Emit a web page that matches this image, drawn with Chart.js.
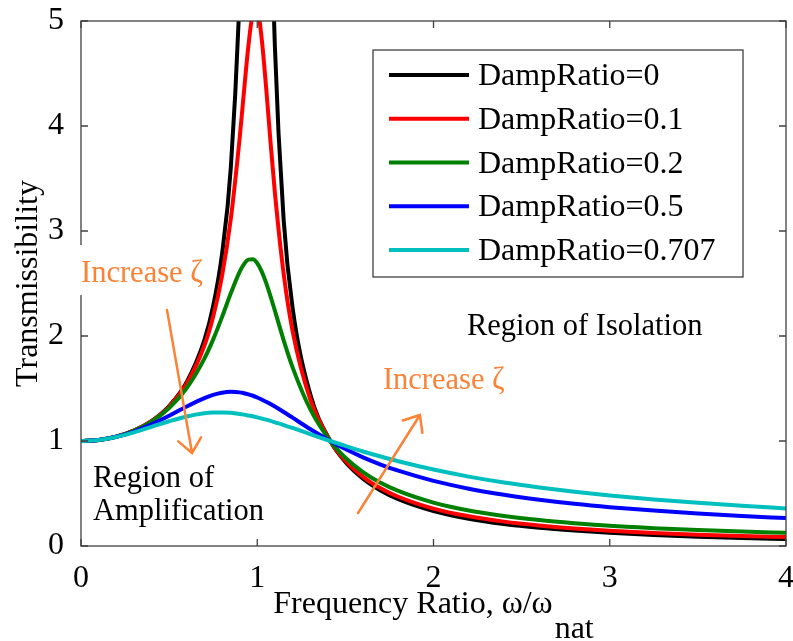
<!DOCTYPE html>
<html>
<head>
<meta charset="utf-8">
<title>Transmissibility</title>
<script src="https://cdn.jsdelivr.net/npm/chart.js@4.4.0/dist/chart.umd.min.js"></script>
<style>
    html, body { margin: 0; padding: 0; background: #fff; }
    #wrap { width: 793px; height: 641px; }
</style>
</head>
<body>
<div id="wrap"><canvas id="chart"></canvas></div>
<script>
// frequency ratio r = w / w_nat
const freqRatio = [0, 0.1, 0.2, 0.3, 0.4, 0.5, 0.6, 0.7, 0.75, 0.8, 0.85, 0.9, 0.925, 0.95, 0.975,
    1.0, 1.025, 1.05, 1.075, 1.1, 1.15, 1.2, 1.3, 1.414, 1.5, 1.6, 1.7, 1.8, 2.0, 2.2, 2.4, 2.6,
    2.8, 3.0, 3.25, 3.5, 3.75, 4.0];

// transmissibility for each damping ratio (undamped curve is open at resonance)
const transZeta0 = [1, 1.010, 1.042, 1.099, 1.190, 1.333, 1.563, 1.961, 2.286, 2.778, 3.604, 5.263,
    6.926, 10.26, null, null, null, 9.756, 6.426, 4.762, 3.101, 2.273, 1.449, 1.001, 0.800, 0.641,
    0.529, 0.446, 0.333, 0.260, 0.210, 0.174, 0.147, 0.125, 0.105, 0.089, 0.076, 0.067];
const transZeta01 = [1, 1.010, 1.042, 1.099, 1.189, 1.328, 1.547, 1.909, 2.186, 2.571, 3.117, 3.882,
    4.334, 4.766, 5.065, 5.099, 4.834, 4.373, 3.854, 3.367, 2.590, 2.052, 1.401, 1.001, 0.812, 0.659,
    0.550, 0.469, 0.356, 0.283, 0.232, 0.195, 0.167, 0.145, 0.124, 0.108, 0.096, 0.085];
const transZeta02 = [1, 1.010, 1.041, 1.097, 1.184, 1.314, 1.505, 1.785, 1.968, 2.180, 2.407, 2.611,
    2.685, 2.727, 2.730, 2.693, 2.616, 2.509, 2.380, 2.241, 1.959, 1.704, 1.305, 1.000, 0.841, 0.704,
    0.602, 0.524, 0.413, 0.338, 0.286, 0.247, 0.217, 0.192, 0.170, 0.152, 0.137, 0.125];
const transZeta05 = [1, 1.010, 1.040, 1.090, 1.158, 1.240, 1.329, 1.409, 1.440, 1.460, 1.468, 1.463,
    1.455, 1.444, 1.431, 1.414, 1.395, 1.374, 1.352, 1.328, 1.276, 1.222, 1.114, 1.000, 0.923, 0.844,
    0.776, 0.717, 0.620, 0.546, 0.488, 0.441, 0.402, 0.370, 0.337, 0.309, 0.286, 0.266];
const transZeta0707 = [1, 1.010, 1.038, 1.082, 1.135, 1.188, 1.234, 1.264, 1.271, 1.272, 1.268, 1.258,
    1.251, 1.243, 1.235, 1.225, 1.214, 1.203, 1.191, 1.178, 1.152, 1.124, 1.066, 1.000, 0.953, 0.900,
    0.852, 0.807, 0.728, 0.661, 0.605, 0.558, 0.517, 0.481, 0.443, 0.411, 0.383, 0.358];

const seriesLabels = ['DampRatio=0', 'DampRatio=0.1', 'DampRatio=0.2', 'DampRatio=0.5', 'DampRatio=0.707'];
const seriesValues = [transZeta0, transZeta01, transZeta02, transZeta05, transZeta0707];
const seriesColors = ['#000000', '#ff0000', '#008000', '#0000ff', '#00bfbf'];

const xTickValues = [0, 1, 2, 3, 4];
const yTickValues = [0, 1, 2, 3, 4, 5];

const SERIF = '"Liberation Serif", "Times New Roman", serif';
const AXIS_COLOR = '#404040';
const NOTE_COLOR = '#fb8236';

// text notes and arrows, placed in data coordinates
const notes = [
    { text: 'Increase \u03b6', x: 0, y: 2.514, color: NOTE_COLOR, boxed: true },
    { text: 'Increase \u03b6', x: 1.713, y: 1.495, color: NOTE_COLOR },
    { text: 'Region of Isolation', x: 2.19, y: 2.01, color: '#000' },
    { text: 'Region of', x: 0.068, y: 0.562, color: '#000' },
    { text: 'Amplification', x: 0.068, y: 0.248, color: '#000' }
];
const arrows = [
    { from: [0.488, 2.248], to: [0.630, 0.886] },
    { from: [1.572, 0.314], to: [1.923, 1.248] }
];

function drawArrow(ctx, x0, y0, x1, y1) {
    const ang = Math.atan2(y1 - y0, x1 - x0);
    const len = 18, spread = 40 * Math.PI / 180;
    ctx.beginPath();
    ctx.moveTo(x0, y0);
    ctx.lineTo(x1, y1);
    ctx.moveTo(x1 - len * Math.cos(ang - spread), y1 - len * Math.sin(ang - spread));
    ctx.lineTo(x1, y1);
    ctx.lineTo(x1 - len * Math.cos(ang + spread), y1 - len * Math.sin(ang + spread));
    ctx.stroke();
}

const decorPlugin = {
    id: 'decor',
    afterDraw(chart) {
        const { ctx, chartArea: a, scales: { x, y } } = chart;
        ctx.save();

        // axes box with inward ticks on all sides
        ctx.strokeStyle = AXIS_COLOR;
        ctx.lineWidth = 1.3;
        ctx.strokeRect(a.left, a.top, a.right - a.left, a.bottom - a.top);
        ctx.beginPath();
        xTickValues.forEach(v => {
            const px = x.getPixelForValue(v);
            ctx.moveTo(px, a.bottom); ctx.lineTo(px, a.bottom - 7);
            ctx.moveTo(px, a.top); ctx.lineTo(px, a.top + 7);
        });
        yTickValues.forEach(v => {
            const py = y.getPixelForValue(v);
            ctx.moveTo(a.left, py); ctx.lineTo(a.left + 7, py);
            ctx.moveTo(a.right, py); ctx.lineTo(a.right - 7, py);
        });
        ctx.stroke();

        // axis titles
        ctx.fillStyle = '#000';
        ctx.font = '32px ' + SERIF;
        ctx.textBaseline = 'alphabetic';
        const main = 'Frequency Ratio, \u03c9/\u03c9';
        const sub = 'nat';
        const wMain = ctx.measureText(main).width;
        const wSub = ctx.measureText(sub).width;
        const cx = (a.left + a.right) / 2;
        const startX = cx - (wMain + wSub + 2) / 2;
        ctx.textAlign = 'left';
        ctx.fillText(main, startX, 613);
        ctx.fillText(sub, startX + wMain + 2, 638);

        ctx.save();
        ctx.translate(29, (a.top + a.bottom) / 2);
        ctx.rotate(-Math.PI / 2);
        ctx.textAlign = 'center';
        ctx.textBaseline = 'middle';
        ctx.fillText('Transmissibility', 0, 0);
        ctx.restore();

        // notes
        ctx.font = '30.5px ' + SERIF;
        ctx.textAlign = 'left';
        ctx.textBaseline = 'alphabetic';
        notes.forEach(n => {
            const px = x.getPixelForValue(n.x);
            const py = y.getPixelForValue(n.y);
            if (n.boxed) {
                const w = ctx.measureText(n.text).width;
                ctx.fillStyle = '#fff';
                ctx.fillRect(px - 4, py - 37, w + 8, 50);
            }
            ctx.fillStyle = n.color;
            ctx.fillText(n.text, px, py);
        });

        ctx.strokeStyle = NOTE_COLOR;
        ctx.lineWidth = 2.5;
        ctx.lineCap = 'round';
        arrows.forEach(ar => {
            drawArrow(ctx,
                x.getPixelForValue(ar.from[0]), y.getPixelForValue(ar.from[1]),
                x.getPixelForValue(ar.to[0]), y.getPixelForValue(ar.to[1]));
        });
        ctx.lineCap = 'butt';

        // legend box, top right inside the axes
        const boxR = a.right - 43, boxT = a.top + 29;
        const boxL = boxR - 370, boxH = 227;
        ctx.fillStyle = '#fff';
        ctx.fillRect(boxL, boxT, boxR - boxL, boxH);
        ctx.strokeStyle = AXIS_COLOR;
        ctx.lineWidth = 1.3;
        ctx.strokeRect(boxL, boxT, boxR - boxL, boxH);
        ctx.font = '32px ' + SERIF;
        chart.data.datasets.forEach((ds, i) => {
            const base = boxT + 35 + i * 43.75;
            ctx.strokeStyle = ds.borderColor;
            ctx.lineWidth = 4;
            ctx.beginPath();
            ctx.moveTo(boxL + 16, base - 10);
            ctx.lineTo(boxL + 96, base - 10);
            ctx.stroke();
            ctx.fillStyle = '#000';
            ctx.fillText(ds.label, boxL + 105, base);
        });

        ctx.restore();
    }
};

const datasets = seriesValues.map((vals, i) => ({
    label: seriesLabels[i],
    data: freqRatio.map((r, k) => ({ x: r, y: vals[k] })),
    borderColor: seriesColors[i],
    borderWidth: 4,
    pointRadius: 0,
    cubicInterpolationMode: 'monotone',
    spanGaps: false,
    clip: 0,
    order: seriesValues.length - i
}));

new Chart(document.getElementById('chart'), {
    type: 'line',
    data: { datasets },
    options: {
        responsive: true,
        maintainAspectRatio: false,
        animation: false,
        layout: { padding: { top: 21, right: 7, left: 0, bottom: 0 } },
        plugins: { legend: { display: false }, tooltip: { enabled: false } },
        scales: {
            x: {
                type: 'linear',
                min: 0,
                max: 4,
                grid: { display: false },
                border: { display: false },
                afterBuildTicks: s => { s.ticks = xTickValues.map(v => ({ value: v })); },
                afterFit: s => { s.height = 95; s.paddingLeft = 0; s.paddingRight = 0; },
                ticks: { color: '#000', font: { family: SERIF, size: 32 }, padding: 5, maxRotation: 0 }
            },
            y: {
                type: 'linear',
                min: 0,
                max: 5,
                grid: { display: false },
                border: { display: false },
                afterBuildTicks: s => { s.ticks = yTickValues.map(v => ({ value: v })); },
                afterFit: s => { s.width = 81; s.paddingTop = 0; s.paddingBottom = 0; },
                ticks: { color: '#000', font: { family: SERIF, size: 32 }, padding: 9 }
            }
        }
    },
    plugins: [decorPlugin]
});
</script>
</body>
</html>
